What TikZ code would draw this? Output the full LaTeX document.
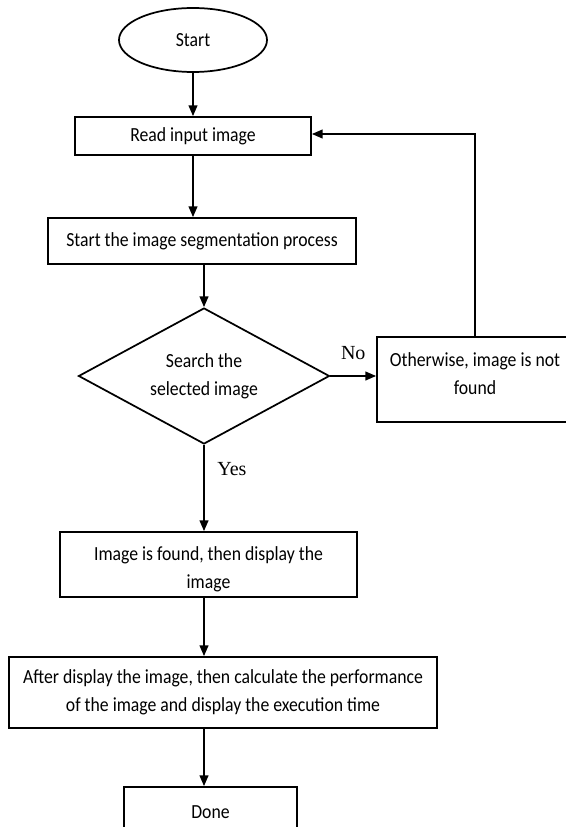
\documentclass[tikz,border=0pt]{standalone}
\usepackage{fontspec}
\setmainfont[FakeStretch=0.885]{Carlito}
\newfontfamily\serifl{Liberation Serif}
\usetikzlibrary{shapes.geometric,arrows.meta}
\begin{document}
\begin{tikzpicture}[x=0.75pt,y=-0.75pt,
  txt/.style={inner sep=0pt,align=center,font=\fontsize{15}{21}\selectfont},
  box/.style={draw,line width=1.3pt,rectangle,txt},
  arr/.style={line width=1.3pt,-{Triangle[width=6.5pt,length=8pt]}},
  lbl/.style={font=\serifl\fontsize{15}{17}\selectfont}]
\useasboundingbox (0,0) rectangle (566,827);
\clip (0,0) rectangle (566,827);
\node[box,ellipse,minimum width=148*0.75pt,minimum height=64*0.75pt] (start) at (193,40) {Start};
\node[box,minimum width=236*0.75pt,minimum height=38*0.75pt] (read) at (193,136) {Read input image};
\node[box,minimum width=308*0.75pt,minimum height=46*0.75pt] (seg) at (202,241) {Start the image segmentation process};
\node[box,diamond,minimum width=251*0.75pt,minimum height=136*0.75pt] (dec) at (204,376) {};
\node[txt] (dectext) at (dec.center) {Search the\\selected image};
\node[box,minimum width=196*0.75pt,minimum height=85*0.75pt] (other) at (475,379.5) {};
\node[txt] (othertext) at (475,374) {Otherwise, image is not\\found};
\node[box,minimum width=297*0.75pt,minimum height=65*0.75pt] (found) at (208.5,564.5) {};
\node[txt] (foundtext) at (208.5,569) {Image is found, then display the\\image};
\node[box,minimum width=428*0.75pt,minimum height=71*0.75pt] (after) at (223,692.5) {After display the image, then calculate the performance\\of the image and display the execution time};
\node[box,minimum width=173*0.75pt,minimum height=50*0.75pt] (done) at (210.5,812) {Done};
\coordinate (loop) at (475,134);
\draw[arr] (start.south) -- (read.north);
\draw[arr] (read.south) -- (seg.north -| read.south);
\draw[arr] (seg.south -| dec.north) -- (dec.north);
\draw[arr] (dec.east) -- (other.west |- dec.east) node[lbl,pos=0.5,above=8pt] {No};
\draw[arr] (dec.south) -- (found.north -| dec.south) node[lbl,pos=0.28,right=6pt] {Yes};
\draw[arr] (found.south -| dec.south) -- (after.north -| dec.south);
\draw[arr] (after.south -| dec.south) -- (done.north -| dec.south);
\draw[arr] (other.north -| loop) -- (loop) -- (read.east |- loop);
\end{tikzpicture}
\end{document}
